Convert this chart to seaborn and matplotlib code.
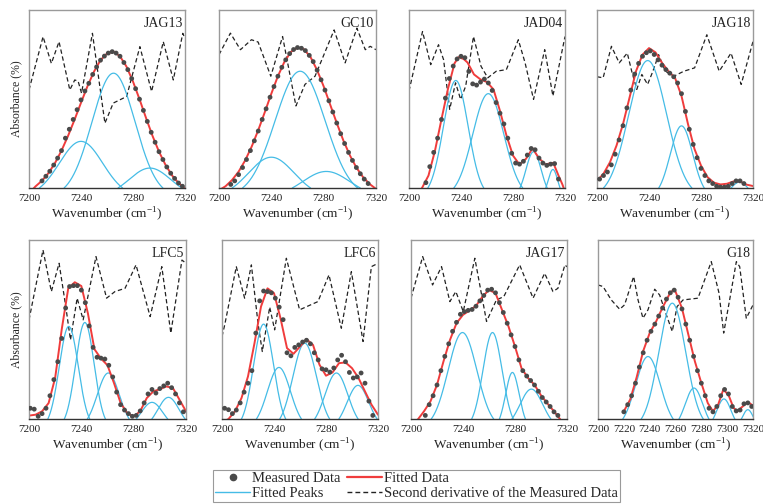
import numpy as np
import matplotlib
matplotlib.use("Agg")
import matplotlib.pyplot as plt
from matplotlib.lines import Line2D
import seaborn as sns

# ---------------- data (y in fraction of panel height) ----------------
grid5 = list(range(7200, 7321, 5))

names = ["JAG13", "GC10", "JAD04", "JAG18", "LFC5", "LFC6", "JAG17", "G18"]

jag13_fit_x = grid5
jag13_fit_y = [-0.03, 0.009, 0.041, 0.084, 0.140, 0.210, 0.292, 0.383, 0.479, 0.572, 0.654, 0.718, 0.756,
               0.766, 0.740, 0.682, 0.598, 0.499, 0.394, 0.293, 0.204, 0.130, 0.071, 0.028, -0.002]
jag13_dot_x0 = 7210
jag13_dot_y = [0.04, 0.066, 0.094, 0.129, 0.168, 0.21, 0.28, 0.33, 0.385, 0.44, 0.495, 0.545, 0.588, 0.638,
               0.680, 0.718, 0.741, 0.758, 0.766, 0.758, 0.740, 0.705, 0.665, 0.615, 0.558, 0.499, 0.436,
               0.374, 0.313, 0.257, 0.204, 0.160, 0.118, 0.083, 0.054, 0.028, 0.01]
jag13_peaks = [(7240, 0.262, 32), (7265, 0.645, 38), (7293, 0.112, 24.5)]
jag13_d2_x = [7200, 7210.8, 7217.2, 7223.1, 7231.4, 7235.2, 7237.8, 7240.4, 7248.8, 7258.4, 7264.8, 7275.1,
              7285.3, 7294.3, 7303.3, 7311, 7318.3, 7320]
jag13_d2_y = [0.551, 0.85, 0.70, 0.822, 0.551, 0.607, 0.60, 0.533, 0.869, 0.364, 0.477, 0.514, 0.794, 0.542,
              0.822, 0.607, 0.869, 0.84]

gc10_fit_x = grid5
gc10_fit_y = [-0.013, 0.010, 0.045, 0.092, 0.155, 0.233, 0.325, 0.426, 0.530, 0.628, 0.709, 0.765, 0.789,
              0.779, 0.735, 0.662, 0.571, 0.468, 0.365, 0.268, 0.184, 0.115, 0.062, 0.023, -0.005]
gc10_dot_x0 = 7209
gc10_dot_y = [0.02, 0.04, 0.075, 0.115, 0.16, 0.21, 0.265, 0.32, 0.385, 0.445, 0.51, 0.57, 0.628, 0.678, 0.72,
              0.755, 0.778, 0.789, 0.785, 0.772, 0.745, 0.71, 0.662, 0.608, 0.55, 0.49, 0.427, 0.365, 0.305,
              0.25, 0.2, 0.155, 0.115, 0.08, 0.05, 0.025]
gc10_peaks = [(7240, 0.173, 30), (7262, 0.656, 44), (7282, 0.093, 26)]
gc10_d2_x = [7200, 7208.7, 7216.4, 7224.8, 7229.9, 7239.6, 7248.6, 7258.8, 7265.7, 7273.4, 7288, 7296.4,
             7305.4, 7311.8, 7315.6, 7320]
gc10_d2_y = [0.749, 0.87, 0.777, 0.833, 0.82, 0.628, 0.851, 0.461, 0.582, 0.628, 0.888, 0.703, 0.898, 0.777,
             0.796, 0.777]

jad04_fit_x = [7205, 7210, 7215, 7220, 7225, 7230, 7235, 7238, 7242, 7245, 7250, 7255, 7260, 7265, 7270, 7275,
               7280, 7285, 7290, 7295, 7300, 7305, 7308, 7311, 7315, 7318, 7320]
jad04_fit_y = [-0.05, 0.0, 0.07, 0.21, 0.387, 0.558, 0.70, 0.735, 0.725, 0.705, 0.638, 0.61, 0.595, 0.554,
               0.433, 0.294, 0.182, 0.132, 0.164, 0.223, 0.167, 0.132, 0.138, 0.141, 0.07, 0.02, -0.02]
jad04_dot_x0 = 7213
jad04_dot_y = [0.03, 0.12, 0.2, 0.28, 0.385, 0.505, 0.615, 0.685, 0.725, 0.74, 0.732, 0.655, 0.585, 0.578,
               0.595, 0.612, 0.59, 0.548, 0.48, 0.42, 0.36, 0.28, 0.195, 0.14, 0.134, 0.15, 0.185, 0.222,
               0.215, 0.168, 0.14, 0.127, 0.134, 0.137, 0.05]
jad04_peaks = [(7236, 0.604, 21.5), (7261, 0.53, 26.5), (7295.8, 0.204, 10.5), (7310.7, 0.104, 5.5)]
jad04_d2_x = [7200, 7210.4, 7216.7, 7222.7, 7226.6, 7231.3, 7235.8, 7239.7, 7243.6, 7249.6, 7255.4, 7260.6,
              7267.1, 7274.9, 7284.1, 7289.3, 7295.8, 7304.4, 7310.7, 7320]
jad04_d2_y = [0.545, 0.879, 0.693, 0.805, 0.721, 0.442, 0.591, 0.498, 0.572, 0.851, 0.684, 0.619, 0.656,
              0.665, 0.833, 0.703, 0.498, 0.777, 0.517, 0.851]

jag18_fit_x = grid5
jag18_fit_y = [0.04, 0.08, 0.145, 0.238, 0.359, 0.507, 0.656, 0.749, 0.786, 0.762, 0.703, 0.656, 0.619,
               0.517, 0.359, 0.219, 0.126, 0.061, 0.03, 0.02, 0.024, 0.037, 0.037, 0.019, 0.011]
jag18_dot_x0 = 7202
jag18_dot_y = [0.05, 0.07, 0.09, 0.13, 0.19, 0.27, 0.35, 0.45, 0.55, 0.64, 0.7, 0.74, 0.76, 0.77, 0.75, 0.72,
               0.69, 0.665, 0.645, 0.625, 0.59, 0.53, 0.43, 0.33, 0.245, 0.17, 0.11, 0.07, 0.04, 0.025, 0.01,
               0.005, 0.005, 0.01, 0.025, 0.04, 0.04, 0.025]
jag18_peaks = [(7239, 0.716, 34), (7265, 0.349, 17.5), (7309.6, 0.033, 6.5)]
jag18_d2_x = [7200, 7204.7, 7211.1, 7217.1, 7223.3, 7226.7, 7230.6, 7234.5, 7238.9, 7243, 7247.4, 7252.6,
              7259.1, 7266.8, 7275.1, 7284.5, 7294, 7303.1, 7310.9, 7320]
jag18_d2_y = [0.625, 0.619, 0.796, 0.703, 0.758, 0.656, 0.554, 0.638, 0.582, 0.656, 0.749, 0.656, 0.628,
              0.656, 0.675, 0.861, 0.656, 0.758, 0.582, 0.823]

lfc5_fit_x = grid5
lfc5_fit_y = [0.019, 0.024, 0.043, 0.089, 0.23, 0.50, 0.73, 0.764, 0.743, 0.591, 0.39, 0.338, 0.30, 0.20,
              0.09, 0.033, 0.015, 0.043, 0.117, 0.154, 0.167, 0.182, 0.173, 0.108, 0.043]
lfc5_dot_x0 = 7201
lfc5_dot_y = [0.06, 0.055, 0.015, 0.03, 0.06, 0.13, 0.22, 0.32, 0.45, 0.62, 0.74, 0.745, 0.745, 0.72, 0.65,
              0.52, 0.40, 0.345, 0.34, 0.335, 0.3, 0.235, 0.15, 0.08, 0.05, 0.03, 0.015, 0.02, 0.045, 0.09,
              0.14, 0.165, 0.145, 0.17, 0.185, 0.2, 0.175, 0.14, 0.09, 0.04]
lfc5_peaks = [(7230.4, 0.517, 16), (7242.7, 0.539, 15.7), (7260.6, 0.257, 16), (7294, 0.093, 12),
              (7306.6, 0.121, 12.7)]
lfc5_d2_x = [7200, 7210.7, 7217.1, 7223, 7228.1, 7231.7, 7236.8, 7241.4, 7251.2, 7259.3, 7265.7, 7273.4,
             7281.8, 7292.6, 7301.5, 7308.4, 7316.9, 7320]
lfc5_d2_y = [0.554, 0.944, 0.712, 0.870, 0.628, 0.442, 0.675, 0.554, 0.907, 0.675, 0.712, 0.730, 0.861,
             0.572, 0.851, 0.480, 0.888, 0.870]

lfc6_fit_x = grid5
lfc6_fit_y = [-0.02, 0.0, 0.043, 0.117, 0.238, 0.424, 0.628, 0.73, 0.703, 0.563, 0.396, 0.364, 0.405, 0.446,
              0.414, 0.303, 0.242, 0.26, 0.312, 0.316, 0.284, 0.229, 0.154, 0.08, 0.024]
lfc6_dot_x0 = 7202
lfc6_dot_y = [0.06, 0.052, 0.03, 0.05, 0.09, 0.15, 0.2, 0.27, 0.48, 0.66, 0.715, 0.712, 0.705, 0.675, 0.625,
              0.555, 0.37, 0.353, 0.4, 0.414, 0.43, 0.44, 0.42, 0.37, 0.33, 0.28, 0.275, 0.262, 0.285, 0.33,
              0.356, 0.32, 0.26, 0.229, 0.235, 0.257, 0.2, 0.1, 0.02]
lfc6_peaks = [(7232, 0.53, 17), (7243.8, 0.288, 17.3), (7263.6, 0.424, 19.2), (7288, 0.257, 16.7),
              (7304.6, 0.188, 14.7)]
lfc6_d2_x = [7200, 7202.1, 7211, 7217.4, 7222.6, 7227.7, 7231, 7236.7, 7240.5, 7249.5, 7259.7, 7273.8,
             7282.3, 7291.8, 7299.5, 7308.5, 7314.9, 7320]
lfc6_d2_y = [0.461, 0.526, 0.851, 0.675, 0.861, 0.535, 0.377, 0.625, 0.498, 0.898, 0.61, 0.656, 0.805,
             0.507, 0.823, 0.433, 0.851, 0.870]

jag17_fit_x = grid5
jag17_fit_y = [-0.03, -0.005, 0.043, 0.099, 0.191, 0.322, 0.442, 0.535, 0.582, 0.606, 0.632, 0.684, 0.721,
               0.703, 0.61, 0.517, 0.405, 0.284, 0.229, 0.191, 0.132, 0.086, 0.043, -0.004, -0.05]
jag17_dot_x0 = 7211
jag17_dot_y = [0.02, 0.08, 0.13, 0.19, 0.27, 0.35, 0.42, 0.49, 0.54, 0.585, 0.6, 0.607, 0.612, 0.63, 0.66,
               0.69, 0.72, 0.725, 0.705, 0.65, 0.595, 0.535, 0.47, 0.405, 0.33, 0.27, 0.24, 0.215, 0.19,
               0.155, 0.12, 0.095, 0.07, 0.04, 0.02]
jag17_peaks = [(7239.6, 0.483, 24), (7262.7, 0.483, 16), (7278, 0.26, 10), (7292.6, 0.167, 15)]
jag17_d2_x = [7200, 7209, 7216.6, 7223.5, 7229.9, 7234.5, 7240.2, 7249.1, 7258.1, 7265.7, 7271.4, 7283.6,
              7293.9, 7302.8, 7309.2, 7313, 7318.4, 7320]
jag17_d2_y = [0.675, 0.907, 0.749, 0.851, 0.656, 0.712, 0.6, 0.898, 0.545, 0.665, 0.684, 0.861, 0.675,
              0.814, 0.712, 0.73, 0.861, 0.85]

g18_fit_x = [7220, 7225, 7230, 7235, 7240, 7245, 7250, 7255, 7258, 7260, 7265, 7270, 7275, 7280, 7285, 7289,
             7293, 7297, 7301, 7305, 7308, 7312, 7316, 7320]
g18_fit_y = [0.043, 0.11, 0.235, 0.38, 0.48, 0.545, 0.623, 0.693, 0.72, 0.712, 0.619, 0.47, 0.322, 0.201,
             0.089, 0.043, 0.08, 0.164, 0.135, 0.061, 0.045, 0.07, 0.095, 0.075]
g18_dot_x0 = 7220
g18_dot_y = [0.04, 0.08, 0.13, 0.2, 0.29, 0.37, 0.44, 0.49, 0.53, 0.575, 0.62, 0.67, 0.705, 0.72, 0.68, 0.615,
             0.53, 0.44, 0.35, 0.27, 0.2, 0.13, 0.06, 0.04, 0.07, 0.13, 0.165, 0.14, 0.07, 0.045, 0.05,
             0.085, 0.09, 0.07]
g18_peaks = [(7238.7, 0.349, 19.5), (7257.5, 0.647, 24), (7274.3, 0.173, 11.6), (7297.5, 0.112, 8.4),
             (7316, 0.052, 5)]
g18_d2_x = [7200, 7203.9, 7210.3, 7216.8, 7220.6, 7227.6, 7231, 7234.8, 7238.7, 7243.9, 7247.7, 7252.9,
            7257.5, 7261.2, 7265.8, 7277.4, 7287.7, 7293.7, 7297.3, 7301.9, 7307.1, 7309.7, 7314.8, 7317.4, 7320]
g18_d2_y = [0.749, 0.74, 0.665, 0.613, 0.638, 0.796, 0.665, 0.563, 0.61, 0.725, 0.693, 0.582, 0.489, 0.628,
            0.665, 0.675, 0.879, 0.703, 0.48, 0.665, 0.879, 0.851, 0.563, 0.6, 0.637]

ticks_40 = [7200, 7240, 7280, 7320]
ticks_20 = [7200, 7220, 7240, 7260, 7280, 7300, 7320]

# ---------------- style ----------------
C_DOT = "#4a4a4a"
C_FIT = "#f03c3c"
C_PEAK = "#45bce6"
C_D2 = "#222222"
BASE = 0.05

sns.set_theme(style="white")
plt.rcParams["font.family"] = ["Liberation Serif", "DejaVu Serif"]
plt.rcParams["mathtext.fontset"] = "custom"
plt.rcParams["mathtext.rm"] = "Liberation Serif"

panels = [
    (jag13_fit_x, jag13_fit_y, jag13_dot_x0, jag13_dot_y, jag13_peaks, jag13_d2_x, jag13_d2_y, ticks_40),
    (gc10_fit_x, gc10_fit_y, gc10_dot_x0, gc10_dot_y, gc10_peaks, gc10_d2_x, gc10_d2_y, ticks_40),
    (jad04_fit_x, jad04_fit_y, jad04_dot_x0, jad04_dot_y, jad04_peaks, jad04_d2_x, jad04_d2_y, ticks_40),
    (jag18_fit_x, jag18_fit_y, jag18_dot_x0, jag18_dot_y, jag18_peaks, jag18_d2_x, jag18_d2_y, ticks_40),
    (lfc5_fit_x, lfc5_fit_y, lfc5_dot_x0, lfc5_dot_y, lfc5_peaks, lfc5_d2_x, lfc5_d2_y, ticks_40),
    (lfc6_fit_x, lfc6_fit_y, lfc6_dot_x0, lfc6_dot_y, lfc6_peaks, lfc6_d2_x, lfc6_d2_y, ticks_40),
    (jag17_fit_x, jag17_fit_y, jag17_dot_x0, jag17_dot_y, jag17_peaks, jag17_d2_x, jag17_d2_y, ticks_40),
    (g18_fit_x, g18_fit_y, g18_dot_x0, g18_dot_y, g18_peaks, g18_d2_x, g18_d2_y, ticks_20),
]

W, H = 763, 504
# panel boxes in pixels: left, right, top, bottom
boxes = [(29, 185, 10, 188), (219, 376, 10, 188), (409, 565, 10, 188), (597, 753, 10, 188),
         (29, 186, 240, 419), (222, 378, 240, 419), (411, 567, 240, 419), (598, 753, 240, 419)]

fig = plt.figure(figsize=(W / 100, H / 100), dpi=100)


def peak_curve(c, h, w):
    xs = np.linspace(c - w, c + w, 200)
    sig = w / np.sqrt(2 * np.log((h + BASE) / BASE))
    return xs, (h + BASE) * np.exp(-(xs - c) ** 2 / (2 * sig ** 2)) - BASE


for i, (name, pdata, box) in enumerate(zip(names, panels, boxes)):
    fx, fy, dx0, dy, peaks, d2x, d2y, ticks = pdata
    l, r, t, b = box
    ax = fig.add_axes([l / W, 1 - b / H, (r - l) / W, (b - t) / H])

    sns.lineplot(x=d2x, y=d2y, ax=ax, color=C_D2, lw=0.9, dashes=False, estimator=None, sort=False)
    ax.lines[-1].set_dashes([3.5, 2.2])
    for (c, h, w) in peaks:
        px, py = peak_curve(c, h, w)
        sns.lineplot(x=px, y=py, ax=ax, color=C_PEAK, lw=0.9, estimator=None, sort=False)
    sns.lineplot(x=fx, y=fy, ax=ax, color=C_FIT, lw=1.4, estimator=None, sort=False)
    dxs = dx0 + 3 * np.arange(len(dy))
    sns.scatterplot(x=dxs, y=dy, ax=ax, color=C_DOT, s=12, edgecolor="none", zorder=5)

    ax.set_xlim(7200, 7320)
    ax.set_ylim(0, 1)
    ax.set_xticks(ticks)
    ax.set_xticklabels([str(v) for v in ticks])
    ax.set_yticks([])
    ax.tick_params(axis="x", length=0, pad=4, labelsize=8, colors="#222222")
    ax.set_xlabel(r"Wavenumber (cm$^{\mathregular{-1}}$)", fontsize=9.5, labelpad=2, color="#222222")
    if i in (0, 4):
        ax.set_ylabel("Absorbance (%)", fontsize=8.5, color="#222222")
        ax.yaxis.set_label_coords(-0.045, 0.5)
    else:
        ax.set_ylabel("")
    for s in ("left", "top", "right"):
        ax.spines[s].set_color("#9a9a9a")
        ax.spines[s].set_linewidth(1.0)
    ax.spines["bottom"].set_color("#333333")
    ax.spines["bottom"].set_linewidth(1.0)
    ax.text(0.985, 0.96, name, transform=ax.transAxes, ha="right", va="top", fontsize=10, color="#222222")

handles = [
    Line2D([], [], marker="o", ls="none", color=C_DOT, markersize=4.5),
    Line2D([], [], color=C_PEAK, lw=1.0),
    Line2D([], [], color=C_FIT, lw=1.6),
    Line2D([], [], color=C_D2, lw=1.0, dashes=[3.5, 2.2]),
]
labels = ["Measured Data", "Fitted Peaks", "Fitted Data", "Second derivative of the Measured Data"]
leg = fig.legend(handles, labels, ncol=2, loc="upper left", bbox_to_anchor=(213 / W, 1 - 470 / H),
                 fontsize=10.5, frameon=True, fancybox=False, edgecolor="#9a9a9a", framealpha=1,
                 handlelength=2.4, handletextpad=0.15, borderpad=0.15, borderaxespad=0,
                 columnspacing=0.4, labelspacing=0.1)
leg.get_frame().set_linewidth(0.8)

fig.savefig("out.png", dpi=100)
